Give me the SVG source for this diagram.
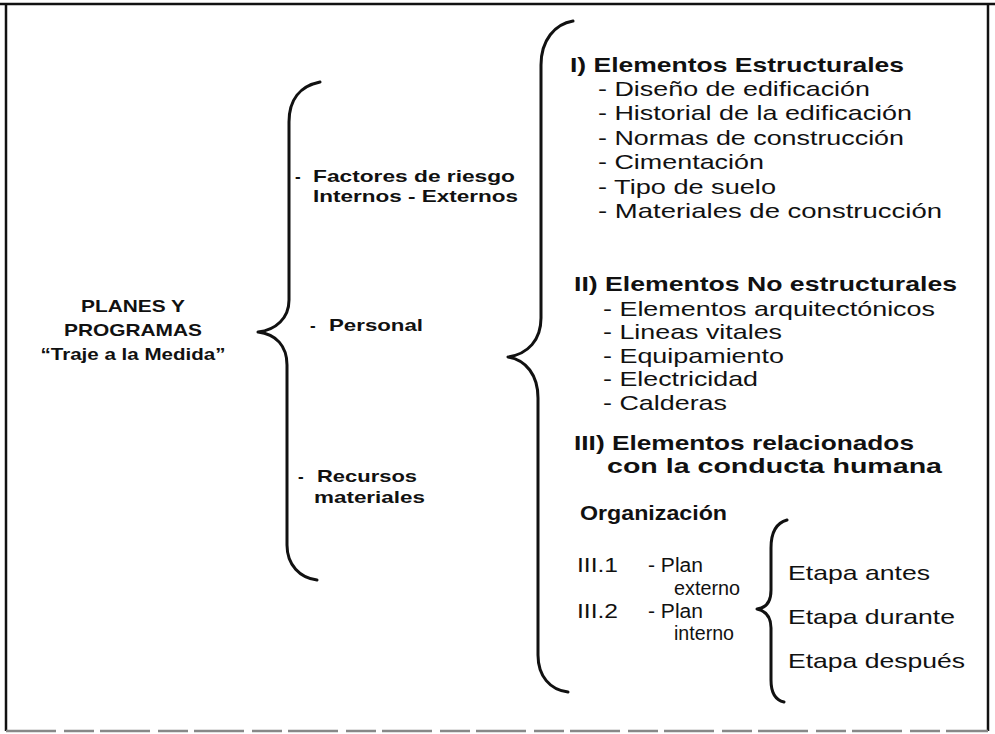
<svg xmlns="http://www.w3.org/2000/svg" width="995" height="734" viewBox="0 0 995 734">
<style>
.b{font-family:"Liberation Sans",Arial,sans-serif;font-weight:bold;fill:#111}
.r{font-family:"Liberation Sans",Arial,sans-serif;fill:#111}
.brace{fill:none;stroke:#111;stroke-width:3;stroke-linecap:round;stroke-linejoin:round}
.frame{stroke:#111;stroke-width:2.5}
</style>
<rect width="995" height="734" fill="#fff"/>
<g id="frame">
<line class="frame" x1="0" y1="4" x2="995" y2="4"/>
<line class="frame" x1="6" y1="4" x2="6" y2="731"/>
<line class="frame" x1="988" y1="4" x2="988" y2="731"/>
<line x1="6" y1="731" x2="988" y2="731" stroke="#888" stroke-width="2.5" stroke-dasharray="50 8 30 6"/>
</g>
<g id="connectors">
<path class="brace" d="M320,82 C300,86 289,100 289,122 L289,300 C289,318 276,330 258,332 C276,334 287,346 287,365 L287,545 C287,565 300,578 317,580"/>
<path class="brace" d="M573,21 C555,24 541,40 541,65 L541,318 C541,340 528,354 508,357 C526,360 538,375 538,398 L538,655 C538,676 550,690 568,692"/>
<path class="brace" d="M787,520 C776,523 771,533 771,548 L771,590 C771,602 766,608 757,609 C766,611 771,617 771,628 L771,680 C771,693 775,700 784,702"/>
</g>
<g id="root" font-size="17">
<text class="b" x="133" y="312" text-anchor="middle" textLength="104" lengthAdjust="spacingAndGlyphs">PLANES Y</text>
<text class="b" x="133" y="336" text-anchor="middle" textLength="138" lengthAdjust="spacingAndGlyphs">PROGRAMAS</text>
<text class="b" x="133" y="360" text-anchor="middle" textLength="185" lengthAdjust="spacingAndGlyphs">“Traje a la Medida”</text>
</g>
<g id="factores" font-size="17">
<text class="b" x="295" y="182">-</text>
<text class="b" x="313" y="182" textLength="202" lengthAdjust="spacingAndGlyphs">Factores de riesgo</text>
<text class="b" x="313" y="202" textLength="205" lengthAdjust="spacingAndGlyphs">Internos - Externos</text>
</g>
<g id="personal" font-size="17">
<text class="b" x="310" y="331">-</text>
<text class="b" x="329" y="331" textLength="94" lengthAdjust="spacingAndGlyphs">Personal</text>
</g>
<g id="recursos" font-size="17">
<text class="b" x="298" y="482">-</text>
<text class="b" x="317" y="482" textLength="100" lengthAdjust="spacingAndGlyphs">Recursos</text>
<text class="b" x="314" y="503" textLength="111" lengthAdjust="spacingAndGlyphs">materiales</text>
</g>
<g id="estructurales" font-size="21" xml:space="preserve">
<text class="b" x="570" y="71.5" textLength="334" lengthAdjust="spacingAndGlyphs">I) Elementos Estructurales</text>
<text class="r" x="598" y="95.5" textLength="272" lengthAdjust="spacingAndGlyphs">- Diseño de edificación</text>
<text class="r" x="598" y="120" textLength="314" lengthAdjust="spacingAndGlyphs">- Historial de la edificación</text>
<text class="r" x="598" y="144.5" textLength="306" lengthAdjust="spacingAndGlyphs">- Normas de construcción</text>
<text class="r" x="598" y="169" textLength="166" lengthAdjust="spacingAndGlyphs">- Cimentación</text>
<text class="r" x="598" y="193.5" textLength="178" lengthAdjust="spacingAndGlyphs">- Tipo de suelo</text>
<text class="r" x="598" y="218" textLength="344" lengthAdjust="spacingAndGlyphs">-  Materiales de construcción</text>
</g>
<g id="no-estructurales" font-size="21" xml:space="preserve">
<text class="b" x="574" y="290.5" textLength="383" lengthAdjust="spacingAndGlyphs">II)  Elementos No estructurales</text>
<text class="r" x="603" y="315.5" textLength="332" lengthAdjust="spacingAndGlyphs">- Elementos arquitectónicos</text>
<text class="r" x="603" y="339" textLength="179" lengthAdjust="spacingAndGlyphs">- Lineas vitales</text>
<text class="r" x="603" y="362.5" textLength="181" lengthAdjust="spacingAndGlyphs">- Equipamiento</text>
<text class="r" x="603" y="386" textLength="155" lengthAdjust="spacingAndGlyphs">- Electricidad</text>
<text class="r" x="603" y="409.5" textLength="124" lengthAdjust="spacingAndGlyphs">- Calderas</text>
</g>
<g id="conducta-humana" font-size="21" xml:space="preserve">
<text class="b" x="574" y="449.5" textLength="340" lengthAdjust="spacingAndGlyphs">III)  Elementos relacionados</text>
<text class="b" x="607" y="472.5" textLength="335" lengthAdjust="spacingAndGlyphs">con la conducta humana</text>
<text class="b" x="580" y="520" font-size="20" textLength="147" lengthAdjust="spacingAndGlyphs">Organización</text>
</g>
<g id="planes" font-size="20">
<text class="r" x="577" y="571.5" textLength="41" lengthAdjust="spacingAndGlyphs">III.1</text>
<text class="r" x="648" y="571.5" textLength="55" lengthAdjust="spacingAndGlyphs">- Plan</text>
<text class="r" x="674" y="594.5" textLength="66" lengthAdjust="spacingAndGlyphs">externo</text>
<text class="r" x="577" y="617.5" textLength="41" lengthAdjust="spacingAndGlyphs">III.2</text>
<text class="r" x="648" y="617.5" textLength="55" lengthAdjust="spacingAndGlyphs">- Plan</text>
<text class="r" x="674" y="639.5" textLength="60" lengthAdjust="spacingAndGlyphs">interno</text>
</g>
<g id="etapas" font-size="21">
<text class="r" x="788" y="579.5" textLength="142" lengthAdjust="spacingAndGlyphs">Etapa antes</text>
<text class="r" x="788" y="623.5" textLength="167" lengthAdjust="spacingAndGlyphs">Etapa durante</text>
<text class="r" x="788" y="667.5" textLength="177" lengthAdjust="spacingAndGlyphs">Etapa después</text>
</g>
</svg>
